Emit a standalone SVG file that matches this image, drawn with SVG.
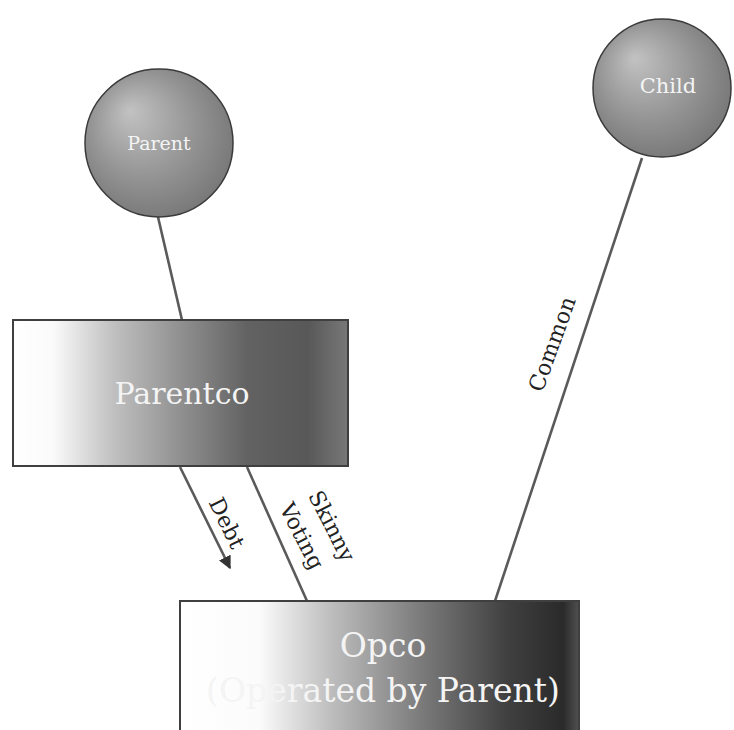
<svg xmlns="http://www.w3.org/2000/svg" width="734" height="730" viewBox="0 0 734 730">
<defs>
  <radialGradient id="gCircle" cx="0.45" cy="0.45" r="0.6" fx="0.3" fy="0.28">
    <stop offset="0" stop-color="#c2c2c2"/>
    <stop offset="0.6" stop-color="#939393"/>
    <stop offset="1" stop-color="#767676"/>
  </radialGradient>
  <linearGradient id="gParentco" x1="0" y1="0" x2="1" y2="0">
    <stop offset="0" stop-color="#ffffff"/>
    <stop offset="0.12" stop-color="#fafafa"/>
    <stop offset="0.3" stop-color="#c0c0c0"/>
    <stop offset="0.5" stop-color="#909090"/>
    <stop offset="0.7" stop-color="#626262"/>
    <stop offset="0.88" stop-color="#585858"/>
    <stop offset="1" stop-color="#787878"/>
  </linearGradient>
  <linearGradient id="gOpco" x1="0" y1="0" x2="1" y2="0">
    <stop offset="0" stop-color="#ffffff"/>
    <stop offset="0.2" stop-color="#fbfbfb"/>
    <stop offset="0.38" stop-color="#bdbdbd"/>
    <stop offset="0.6" stop-color="#7c7c7c"/>
    <stop offset="0.82" stop-color="#404040"/>
    <stop offset="0.96" stop-color="#2a2a2a"/>
    <stop offset="1" stop-color="#505050"/>
  </linearGradient>
  <marker id="arrow" viewBox="0 0 10 10" refX="9" refY="5" markerWidth="5" markerHeight="5" orient="auto" markerUnits="strokeWidth">
    <path d="M0,0 L10,5 L0,10 z" fill="#333"/>
  </marker>
  <style>
    .circle { fill: url(#gCircle); stroke: #3a3a3a; stroke-width: 1.5; }
    .box { stroke: #3f3f3f; stroke-width: 2; }
    .lbl { font-family: "DejaVu Serif", "Liberation Serif", serif; fill: #f4f4f4; text-anchor: middle; }
    .edge { stroke: #5a5a5a; stroke-width: 2.6; fill: none; }
    .elbl { font-family: "DejaVu Serif", "Liberation Serif", serif; fill: #222; text-anchor: middle; font-size: 22px; }
  </style>
</defs>
<rect width="734" height="730" fill="#ffffff"/>

<g id="connectors">
  <line class="edge" x1="158" y1="217" x2="182" y2="320"/>
  <line class="edge" x1="180" y1="467" x2="230" y2="568" marker-end="url(#arrow)"/>
  <line class="edge" x1="247" y1="467" x2="307" y2="601"/>
  <line class="edge" x1="642" y1="158" x2="495" y2="601"/>
  <text class="elbl" transform="translate(227,523) rotate(64)" dy="0.35em">Debt</text>
  <text class="elbl" transform="translate(332,526) rotate(63)" dy="0.35em">Skinny</text>
  <text class="elbl" transform="translate(302,536) rotate(63)" dy="0.35em">Voting</text>
  <text class="elbl" transform="translate(552,344) rotate(-70)" dy="0.35em">Common</text>
</g>

<g id="parent">
  <circle class="circle" cx="159" cy="143" r="74"/>
  <text class="lbl" x="159" y="150" font-size="19">Parent</text>
</g>

<g id="child">
  <circle class="circle" cx="662" cy="88" r="69"/>
  <text class="lbl" x="668" y="93" font-size="21">Child</text>
</g>

<g id="parentco">
  <rect class="box" x="13" y="320" width="335" height="146" fill="url(#gParentco)"/>
  <text class="lbl" x="182" y="404" font-size="30">Parentco</text>
</g>

<g id="opco">
  <rect class="box" x="180" y="601" width="399" height="140" fill="url(#gOpco)"/>
  <text class="lbl" x="383" y="657" font-size="33">Opco</text>
  <text class="lbl" x="383" y="702" font-size="33">(Operated by Parent)</text>
</g>
</svg>
